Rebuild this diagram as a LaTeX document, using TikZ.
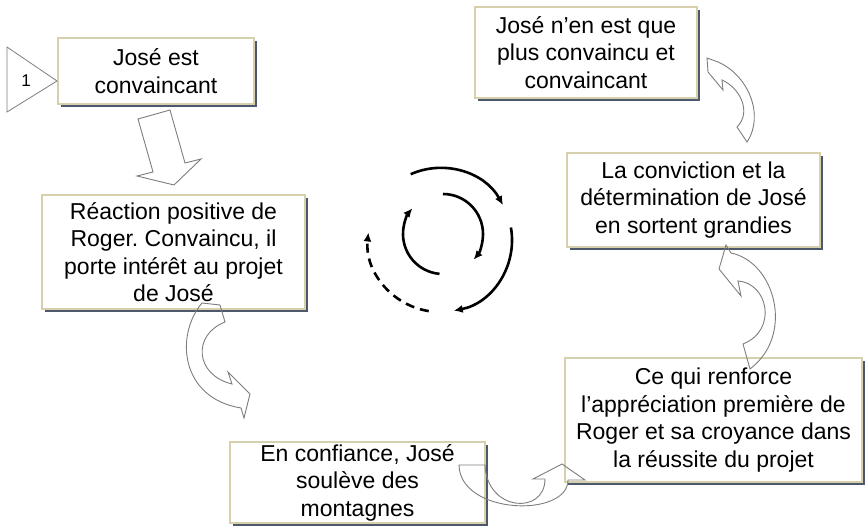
\documentclass[tikz,border=0pt]{standalone}
\usepackage{fontspec}
\setmainfont{Liberation Sans}
\frenchspacing
\usetikzlibrary{arrows.meta,shadows,calc}
\definecolor{boxrim}{RGB}{214,208,172}
\definecolor{boxshade}{RGB}{78,88,108}
\definecolor{arrowgrey}{RGB}{125,125,125}
\tikzset{
  notebox/.style={draw=boxrim, line width=1.2pt, fill=white, align=center, inner sep=0pt,
    font=\fontsize{23}{27.5}\selectfont,
    drop shadow={shadow xshift=3pt, shadow yshift=-3pt, fill=boxshade, opacity=1}},
  blockarrow/.style={draw=arrowgrey, line width=0.9pt, line join=miter},
  cyclearrow/.style={-{Latex[length=9pt,width=8pt]}, line width=2.6pt},
  startmark/.style={draw=arrowgrey, line width=0.8pt}
}

\begin{document}
\begin{tikzpicture}[x=1pt, y=-1pt]
  \useasboundingbox (0,0) rectangle (865,526);

  % the six steps of the loop
  \node[notebox, minimum width=196pt, minimum height=66pt] (convincing) at (156,71) {José est\\convaincant};
  \node[notebox, minimum width=263pt, minimum height=114pt] (reaction) at (173.5,252) {Réaction positive de\\Roger. Convaincu, il\\porte intérêt au projet\\de José};
  \node[notebox, minimum width=255pt, minimum height=81pt] (mountains) at (357.5,482.5) {En confiance, José\\soulève des\\montagnes};
  \node[notebox, minimum width=297pt, minimum height=124pt] (reinforce) at (713.5,420) {Ce qui renforce\\l’appréciation première de\\Roger et sa croyance dans\\la réussite du projet};
  \node[notebox, minimum width=253pt, minimum height=94pt] (grows) at (693.5,200) {La conviction et la\\détermination de José\\en sortent grandies};
  \node[notebox, minimum width=222pt, minimum height=91pt] (more) at (586,52.5) {José n’en est que\\plus convaincu et\\convaincant};

  % start marker
  \draw[startmark] (7,47) -- (57,81) -- (7,112) -- cycle;
  \node[font=\fontsize{17}{20}\selectfont] (one) at (26,81) {1};

  % block arrows between the steps
  \draw[blockarrow] (138,119) -- (170,110) -- (185,163) -- (201,159) -- (174,185)
    -- (137,176) -- (153,172) -- cycle;
  \draw[blockarrow] (202,303) .. controls (175,335) and (180,398) .. (241,408)
    -- (244,418) -- (250,394) -- (228,372) -- (232,384)
    .. controls (195,375) and (192,335) .. (225,322) -- (220,305) -- cycle;
  \draw[blockarrow] (459,465) .. controls (460,515) and (568,518) .. (568,480)
    -- (585,480) -- (562,464) -- (533,479) -- (545,479)
    .. controls (545,515) and (487,512) .. (485,465) -- cycle;
  \draw[blockarrow] (750,369) .. controls (795,335) and (775,262) .. (731,253)
    -- (726,245) -- (719,269) -- (741,296) -- (738,281)
    .. controls (768,283) and (778,330) .. (743,344) -- cycle;
  \draw[blockarrow] (747,142) .. controls (765,115) and (748,75) .. (718,62)
    -- (707,58) -- (708,72) -- (723,90) -- (722,80)
    .. controls (740,88) and (752,112) .. (737,127) -- cycle;

  % turning arrows in the middle
  \coordinate (outerhub) at (440,240);
  \coordinate (innerhub) at (443,234);
  \draw[cyclearrow] ($(outerhub)+(114:72pt)$) arc[start angle=114, end angle=29, radius=72pt];
  \draw[cyclearrow] ($(outerhub)+(10:72pt)$) arc[start angle=10, end angle=-79, radius=72pt];
  \draw[cyclearrow, dash pattern=on 9pt off 6pt] ($(outerhub)+(-99:72pt)$) arc[start angle=-99, end angle=-186, radius=72pt];
  \draw[cyclearrow] ($(innerhub)+(-95:40pt)$) arc[start angle=-95, end angle=-220, radius=40pt];
  \draw[cyclearrow] ($(innerhub)+(90:40pt)$) arc[start angle=90, end angle=-40, radius=40pt];
\end{tikzpicture}
\end{document}
